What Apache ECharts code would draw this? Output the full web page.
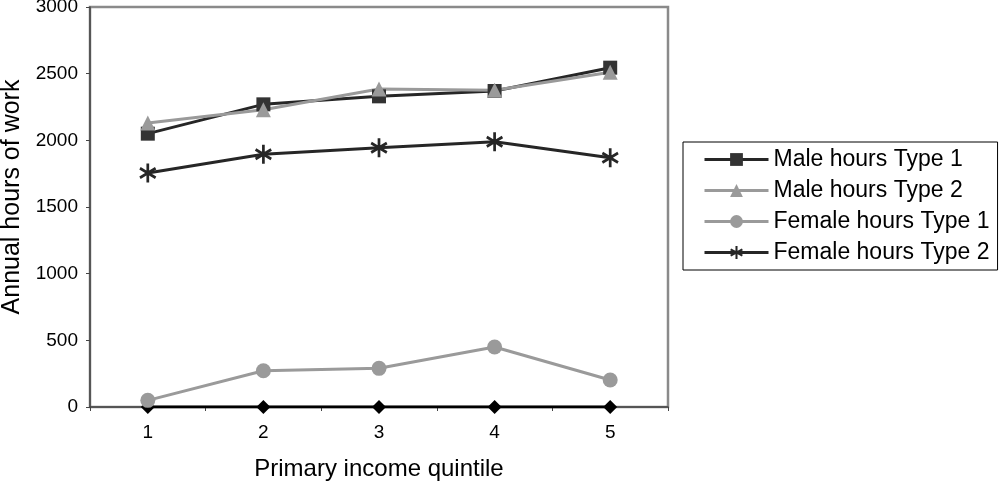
<!DOCTYPE html>
<html>
<head>
<meta charset="utf-8">
<script src="https://cdn.jsdelivr.net/npm/echarts@6/dist/echarts.min.js"></script>
<style>
html,body{margin:0;padding:0;background:#fff;}
#chart{width:1000px;height:485px;}
</style>
</head>
<body>
<div id="chart"></div>
<script>
var categories = ['1', '2', '3', '4', '5'];
var maleType1 = [2050, 2270, 2330, 2370, 2545];
var maleType2 = [2130, 2230, 2385, 2375, 2510];
var femaleType1 = [50, 272, 290, 450, 202];
var femaleType2 = [1755, 1895, 1945, 1990, 1870];
var baseline = [0, 0, 0, 0, 0];
var yTicks = [0, 500, 1000, 1500, 2000, 2500, 3000];

var FONT = '"Liberation Sans", Arial, sans-serif';
var DARK = '#262626';
var GRAY = '#9a9a9a';
var starPath = 'path://M8.5,0L11.5,0L11.5,20L8.5,20Z M2.09,3.7L19.41,13.7L17.91,16.3L0.59,6.3Z M0.59,13.7L17.91,3.7L19.41,6.3L2.09,16.3Z';

var chart = echarts.init(document.getElementById('chart'));
chart.setOption({
  backgroundColor: '#ffffff',
  animation: false,
  textStyle: { fontFamily: FONT },
  grid: { left: 90, top: 7, right: 332, bottom: 78, containLabel: false, outerBoundsMode: 'none', show: true, borderColor: '#8a8a8a', borderWidth: 2.5, backgroundColor: 'transparent' },
  legend: {
    orient: 'vertical',
    left: 683,
    top: 142,
    data: ['Male hours Type 1', 'Male hours Type 2', 'Female hours Type 1', 'Female hours Type 2'],
    itemWidth: 64,
    itemHeight: 16,
    itemGap: 8,
    padding: [6, 8, 6, 20],
    borderColor: '#000',
    borderWidth: 1,
    lineStyle: { width: 3 },
    textStyle: { fontFamily: FONT, fontSize: 23, color: '#000', lineHeight: 23 }
  },
  xAxis: {
    type: 'category',
    data: categories,
    boundaryGap: true,
    name: 'Primary income quintile',
    nameLocation: 'middle',
    nameGap: 50,
    nameTextStyle: { fontFamily: FONT, fontSize: 24, color: '#000' },
    axisLine: { lineStyle: { color: '#444', width: 1.5 } },
    axisTick: { show: true, length: 4, lineStyle: { color: '#444' } },
    axisLabel: { fontFamily: FONT, fontSize: 19, color: '#000', margin: 16 },
    splitLine: { show: false }
  },
  yAxis: {
    type: 'value',
    min: yTicks[0],
    max: yTicks[yTicks.length - 1],
    interval: 500,
    name: 'Annual hours of work',
    nameLocation: 'middle',
    nameGap: 57,
    nameTextStyle: { fontFamily: FONT, fontSize: 25, color: '#000', padding: [0, 0, 0, 20] },
    axisLine: { show: true, lineStyle: { color: '#444', width: 1.5 } },
    axisTick: { show: true, length: 4, lineStyle: { color: '#444' } },
    axisLabel: { fontFamily: FONT, fontSize: 19, color: '#000', margin: 12, formatter: function (v) { return String(v); } },
    splitLine: { show: false }
  },
  series: [
    {
      name: 'Zero', type: 'line', data: baseline,
      symbol: 'diamond', symbolSize: 14,
      lineStyle: { color: '#000', width: 3 },
      itemStyle: { color: '#000' }
    },
    {
      name: 'Female hours Type 1', type: 'line', data: femaleType1,
      symbol: 'circle', symbolSize: 15,
      lineStyle: { color: GRAY, width: 3 },
      itemStyle: { color: GRAY }
    },
    {
      name: 'Female hours Type 2', type: 'line', data: femaleType2,
      symbol: starPath, symbolSize: [17, 19],
      lineStyle: { color: DARK, width: 3 },
      itemStyle: { color: DARK }
    },
    {
      name: 'Male hours Type 1', type: 'line', data: maleType1,
      symbol: 'rect', symbolSize: 14,
      lineStyle: { color: DARK, width: 3 },
      itemStyle: { color: '#333' }
    },
    {
      name: 'Male hours Type 2', type: 'line', data: maleType2,
      symbol: 'triangle', symbolSize: 15,
      lineStyle: { color: GRAY, width: 3 },
      itemStyle: { color: GRAY }
    }
  ]
});
</script>
</body>
</html>
